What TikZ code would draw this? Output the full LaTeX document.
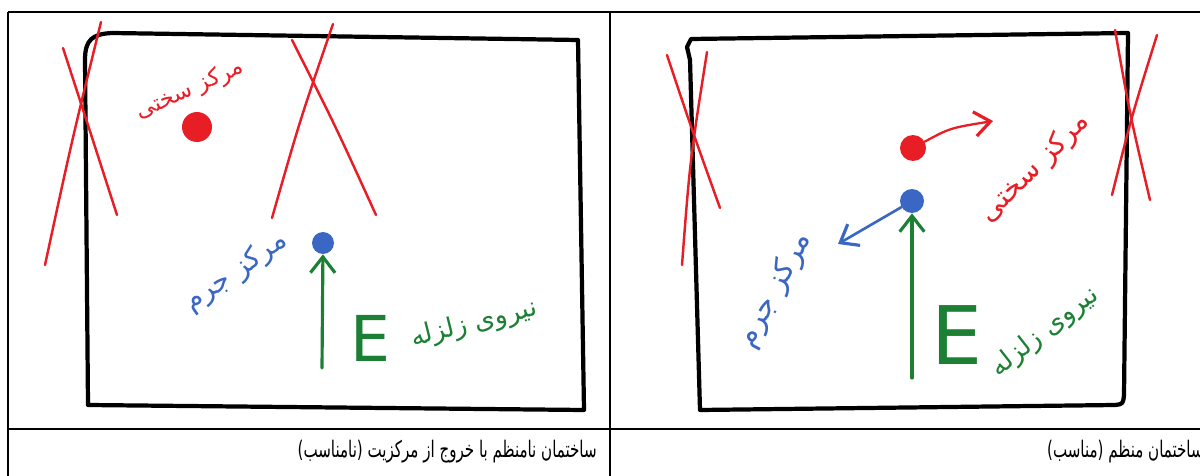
\documentclass[tikz,border=0pt]{standalone}
\usepackage{fontspec}
\usetikzlibrary{arrows.meta}
\TeXXeTstate=1
\newfontfamily\farsi[Script=Arabic]{DejaVu Sans}
\newcommand{\fatxt}[1]{\farsi\beginR #1\endR}
\newcommand{\captxt}[1]{\scalebox{0.66}[1]{\fatxt{#1}}}

\definecolor{penred}{RGB}{232,30,38}
\definecolor{penblue}{RGB}{58,102,196}
\definecolor{pengreen}{RGB}{28,128,52}

\tikzset{
  frame/.style={line width=2.4pt, line cap=round, line join=round},
  grid/.style={line width=0.8pt},
  cross/.style={penred, line width=1.4pt, line cap=round},
  dot/.style={circle, inner sep=0pt},
  pen/.style={line width=1.8pt, line cap=round, -{Straight Barb[length=9pt, width=14pt, line width=1.8pt]}},
  caption/.style={anchor=east, inner sep=0pt, font=\fontsize{13}{15}\selectfont}
}

\begin{document}
\begin{tikzpicture}[x=0.02cm, y=-0.02cm]

  \useasboundingbox (0,0) rectangle (1200,476);

  % tabela
  \draw[grid] (8,12) -- (1200,12);
  \draw[grid] (8,429) -- (1200,429);
  \draw[grid] (8,12) -- (8,476);
  \draw[grid] (610,12) -- (610,476);

  % legendas
  \node[caption] (capL) at (597,452) {\captxt{ساختمان نامنظم با خروج از مرکزیت (نامناسب)}};
  \node[caption] (capR) at (1204,452) {\captxt{ساختمان منظم (مناسب)}};

  % ---------------- left: irregular building ----------------

  % planta
  \draw[frame] (88,405) -- (85,60) .. controls (85,40) and (92,34) .. (112,33)
    -- (578,40) -- (584,410) -- cycle;

  % pilares eliminados
  \draw[cross] (63,48) .. controls (88,125) .. (117,215);
  \draw[cross] (101,22) .. controls (72,140) .. (45,265);
  \draw[cross] (333,24) .. controls (300,120) .. (272,218);
  \draw[cross] (292,40) .. controls (335,125) .. (376,215);

  % centro de rigidez
  \node[dot, fill=penred, minimum size=0.6cm] (stiffL) at (197,127) {};
  \node[penred, rotate=24, font=\fontsize{13}{15}\selectfont] (stiffLtxt) at (190,90)
    {\fatxt{مرکز سختی}};

  % centro de massa
  \node[dot, fill=penblue, minimum size=0.44cm] (massL) at (323,243) {};
  \node[penblue, rotate=35, font=\fontsize{16}{18}\selectfont] (massLtxt) at (236,272)
    {\fatxt{مرکز جرم}};

  % força sísmica
  \coordinate (forceL) at (322,368);
  \draw[pen, pengreen] (forceL) -- (massL);
  \node[pengreen, font=\farsi\fontsize{36}{36}\selectfont] (EL) at (370,338) {E};
  \node[pengreen, rotate=14, font=\fontsize{15}{17}\selectfont] (quakeL) at (474,324)
    {\fatxt{نیروی زلزله}};

  % ---------------- right: regular building ----------------

  % planta
  \draw[frame] (700,410) -- (690,60) -- (687,47) -- (691,39) -- (1128,33)
    -- (1124,395) .. controls (1123,404) .. (1115,405) -- cycle;

  % pilares eliminados
  \draw[cross] (667,55) .. controls (692,130) .. (720,208);
  \draw[cross] (707,52) .. controls (690,160) .. (682,265);
  \draw[cross] (1115,30) .. controls (1130,115) .. (1150,200);
  \draw[cross] (1157,35) .. controls (1132,115) .. (1112,195);

  % centro de rigidez
  \node[dot, fill=penred, minimum size=0.52cm] (stiffR) at (913,148) {};
  \coordinate (stiffRend) at (993,121);
  \draw[pen, penred, line width=1.3pt] (stiffR) .. controls (950,128) .. (stiffRend);
  \node[penred, rotate=45, font=\fontsize{16}{18}\selectfont] (stiffRtxt) at (1035,168)
    {\fatxt{مرکز سختی}};

  % centro de massa
  \node[dot, fill=penblue, minimum size=0.48cm] (massR) at (912,201) {};
  \coordinate (massRend) at (838,244);
  \draw[pen, penblue, line width=1.5pt] (massR) -- (massRend);
  \node[penblue, rotate=62, font=\fontsize{17}{19}\selectfont] (massRtxt) at (775,290)
    {\fatxt{مرکز جرم}};

  % força sísmica
  \coordinate (forceR) at (912,378);
  \draw[pen, pengreen] (forceR) -- (massR);
  \node[pengreen, font=\farsi\fontsize{46}{46}\selectfont] (ER) at (957,335) {E};
  \node[pengreen, rotate=38, font=\fontsize{15}{17}\selectfont] (quakeR) at (1045,332)
    {\fatxt{نیروی زلزله}};

\end{tikzpicture}
\end{document}
